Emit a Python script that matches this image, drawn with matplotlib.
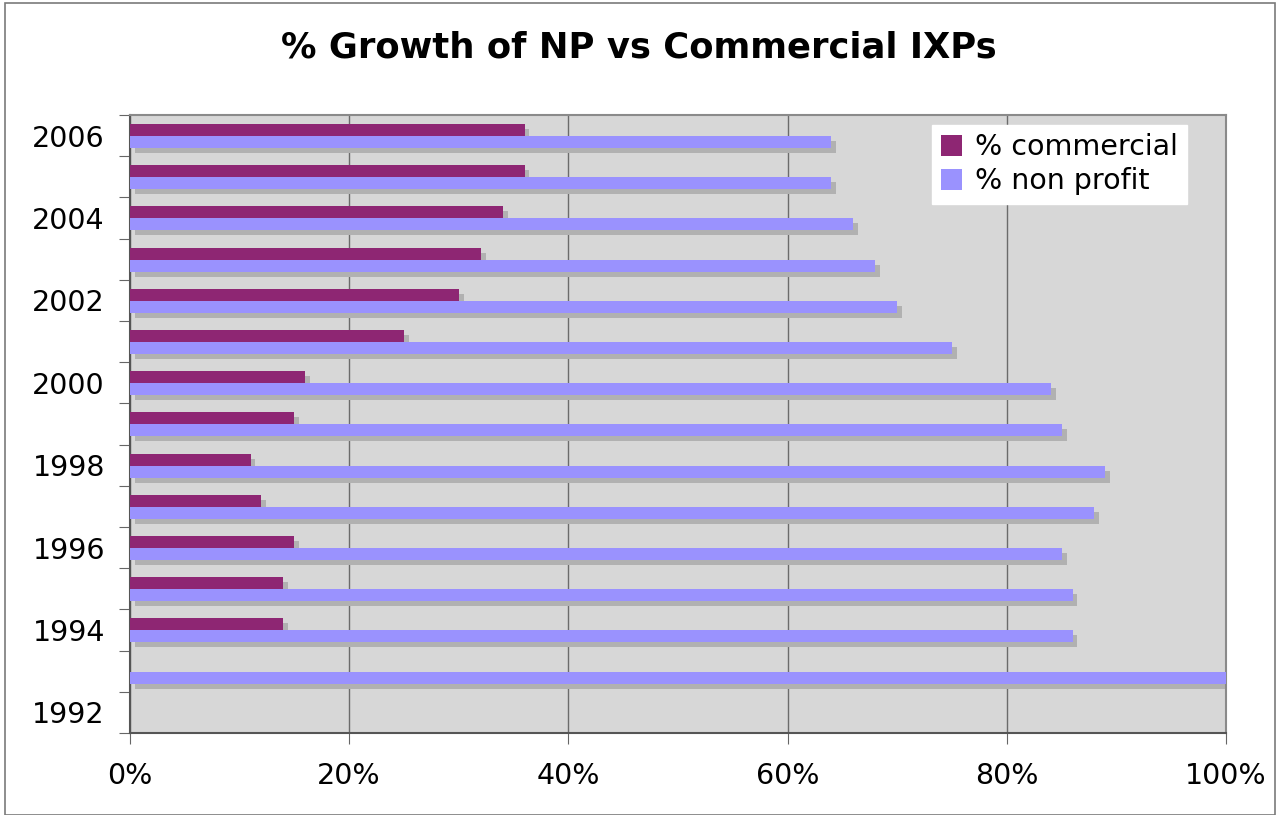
"""% growth of non-profit vs commercial IXPs, horizontal bar chart."""

import numpy as np
import matplotlib
matplotlib.use("Agg")
import matplotlib.pyplot as plt
from matplotlib.patches import Rectangle

years = list(range(1992, 2007))
commercial = [np.nan, 0, 14, 14, 15, 12, 11, 15, 16, 25, 30, 32, 34, 36, 36]
non_profit = [np.nan, 100, 86, 86, 85, 88, 89, 85, 84, 75, 70, 68, 66, 64, 64]
year_labels = [str(y) if y % 2 == 0 else "" for y in years]
x_ticks = [0, 20, 40, 60, 80, 100]

C_COM = "#8e2673"
C_NP = "#9a92fe"
C_SHADOW = "#b1b1b1"

fig = plt.figure(figsize=(12.78, 8.15), dpi=100)
ax = fig.add_axes([0.1017, 0.1006, 0.8576, 0.7583])
ax.set_facecolor("#d7d7d7")

y = np.arange(len(years))
h = 0.29
com_y = y + 0.135
np_y = y - 0.155
dx, dy = 0.45, 0.12

# shadows first
ax.barh(com_y - dy, commercial, height=h, left=dx, color=C_SHADOW, zorder=2)
ax.barh(np_y - dy, non_profit, height=h, left=dx, color=C_SHADOW, zorder=2)
ax.barh(com_y, commercial, height=h, color=C_COM, label="% commercial", zorder=3)
ax.barh(np_y, non_profit, height=h, color=C_NP, label="% non profit", zorder=3)

ax.set_xlim(0, 100)
ax.set_ylim(-0.5, len(years) - 0.5)

ax.set_xticks(x_ticks)
ax.set_xticklabels([f"{t}%" for t in x_ticks], fontsize=20.5)
ax.tick_params(axis="x", length=8, pad=13, color="#666666")
ax.xaxis.grid(True, color="#6b6b6b", linewidth=1, zorder=1)
ax.set_axisbelow(True)

ax.set_yticks(np.arange(len(years) + 1) - 0.5)
ax.set_yticklabels([])
ax.set_yticks(y, minor=True)
ax.set_yticklabels(year_labels, minor=True, fontsize=20.5)
ax.tick_params(axis="y", which="major", length=8, color="#666666")
ax.tick_params(axis="y", which="minor", length=0, pad=18)

for side in ("top", "right"):
    ax.spines[side].set_color("#8a8a8a")
    ax.spines[side].set_linewidth(1.5)
for side in ("left", "bottom"):
    ax.spines[side].set_color("#555555")
    ax.spines[side].set_linewidth(1.5)

leg = ax.legend(loc="upper right", bbox_to_anchor=(0.964, 0.984), fontsize=20.5,
                frameon=True, fancybox=False, edgecolor="white", framealpha=1,
                handlelength=0.75, handleheight=0.75, handletextpad=0.45,
                labelspacing=0.2, borderpad=0.3, borderaxespad=0)

fig.suptitle("% Growth of NP vs Commercial IXPs", fontsize=25.5, fontweight="bold",
             y=0.962)

fig.patches.append(Rectangle((0.004, 0.0), 0.994, 0.996, transform=fig.transFigure,
                             fill=False, edgecolor="#7a7a7a", linewidth=1.2))

fig.savefig("out.png", dpi=100)
